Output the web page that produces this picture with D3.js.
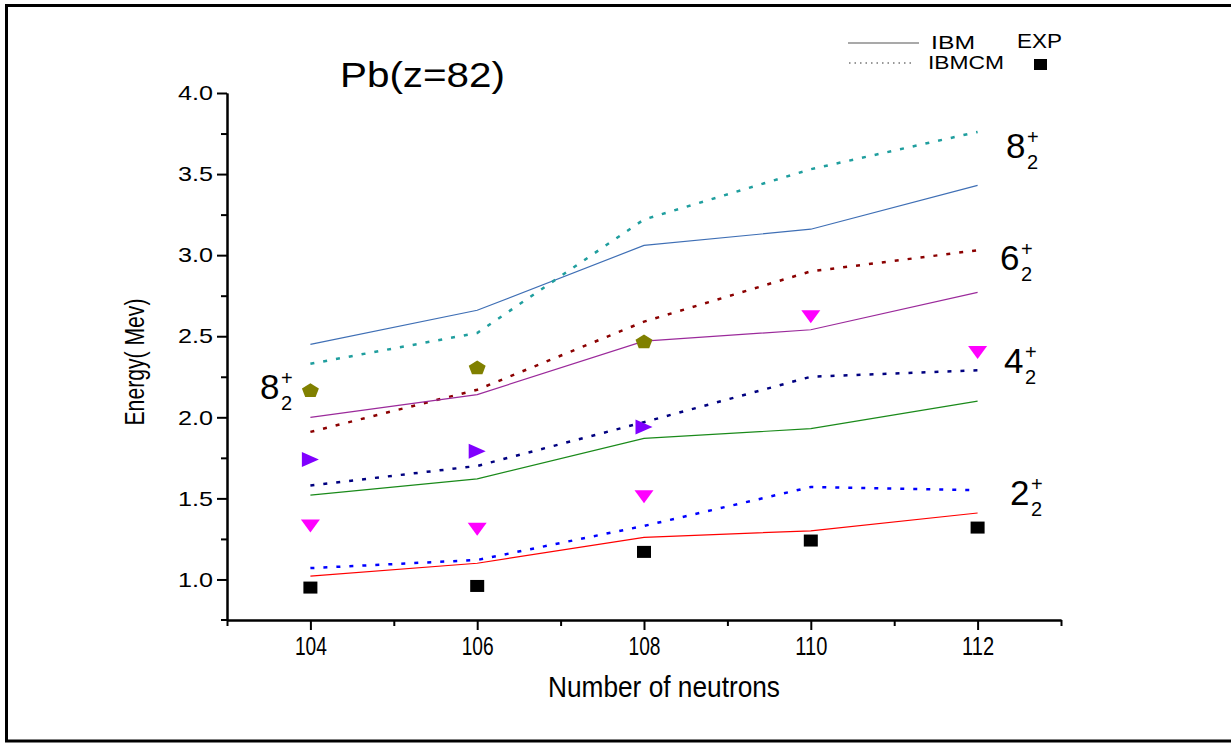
<!DOCTYPE html>
<html>
<head>
<meta charset="utf-8">
<script src="https://cdn.jsdelivr.net/npm/d3@7"></script>
<style>
  body { margin: 0; background: #fff; }
  svg text { font-family: "Liberation Sans", Arial, sans-serif; fill: #000; }
</style>
</head>
<body>
<div id="chart"></div>
<script>
// neutron numbers
const neutrons = [104, 106, 108, 110, 112];
// IBM (solid) and IBMCM (dotted) calculations
const ibm2 = [1.02, 1.10, 1.26, 1.30, 1.41];
const ibmcm2 = [1.07, 1.12, 1.33, 1.57, 1.55];
const ibm4 = [1.52, 1.62, 1.87, 1.93, 2.10];
const ibmcm4 = [1.58, 1.70, 1.97, 2.25, 2.29];
const ibm6 = [2.00, 2.14, 2.47, 2.54, 2.77];
const ibmcm6 = [1.91, 2.17, 2.59, 2.90, 3.03];
const ibm8 = [2.45, 2.66, 3.06, 3.16, 3.43];
const ibmcm8 = [2.33, 2.52, 3.22, 3.53, 3.76];
// experimental points
const expSquare = [0.95, 0.96, 1.17, 1.24, 1.32];
const expDown = [1.33, 1.31, 1.51, 2.62, 2.40];
const expRight = [1.74, 1.79, 1.94];
const expPent = [2.17, 2.31, 2.47];
// ticks
const xMajor = [104, 106, 108, 110, 112];
const xMinor = [103, 105, 107, 109, 111, 113];
const yMajor = [1.0, 1.5, 2.0, 2.5, 3.0, 3.5, 4.0];
const yMinor = [1.25, 1.75, 2.25, 2.75, 3.25, 3.75];

const width = 1231;
const height = 743;

const svg = d3.select("#chart")
  .append("svg")
  .attr("width", width)
  .attr("height", height);

// frame
svg.append("rect")
  .attr("x", 6.5).attr("y", 5.5)
  .attr("width", 1240).attr("height", 735.5)
  .attr("fill", "none").attr("stroke", "#000").attr("stroke-width", 3);

const x = d3.scaleLinear().domain([103, 113]).range([227, 1061]);
const y = d3.scaleLinear().domain([0.75, 4.0]).range([620, 93]);

// axes
const xAxis = svg.append("g")
  .attr("transform", `translate(0,${y(0.75)})`)
  .call(d3.axisBottom(x).tickValues(xMajor).tickFormat(d3.format("d")).tickSize(10).tickSizeOuter(0).tickPadding(7));
svg.append("g")
  .attr("transform", `translate(0,${y(0.75)})`)
  .call(d3.axisBottom(x).tickValues(xMinor).tickFormat("").tickSize(6).tickSizeOuter(0));
xAxis.selectAll("text")
  .style("font-size", "25px")
  .attr("textLength", 32)
  .attr("lengthAdjust", "spacingAndGlyphs");

const yAxis = svg.append("g")
  .attr("transform", `translate(${x(103)},0)`)
  .call(d3.axisLeft(y).tickValues(yMajor).tickFormat(d3.format(".1f")).tickSize(10).tickSizeOuter(0).tickPadding(4));
svg.append("g")
  .attr("transform", `translate(${x(103)},0)`)
  .call(d3.axisLeft(y).tickValues(yMinor).tickFormat("").tickSize(6).tickSizeOuter(0));
yAxis.selectAll("text")
  .style("font-size", "21px")
  .attr("textLength", 35)
  .attr("lengthAdjust", "spacingAndGlyphs");

svg.selectAll(".domain").attr("stroke-width", 2);
svg.selectAll(".tick line").attr("stroke-width", 2);
// extend x axis a bit past the y axis, like the original
svg.append("line")
  .attr("x1", x(103) - 6).attr("x2", x(103))
  .attr("y1", y(0.75)).attr("y2", y(0.75))
  .attr("stroke", "#000").attr("stroke-width", 2);

// axis titles
svg.append("text")
  .attr("x", 664).attr("y", 697)
  .attr("text-anchor", "middle")
  .style("font-size", "30px")
  .attr("textLength", 232).attr("lengthAdjust", "spacingAndGlyphs")
  .text("Number of neutrons");

svg.append("text")
  .attr("transform", "translate(144,362) rotate(-90)")
  .attr("text-anchor", "middle")
  .style("font-size", "28px")
  .attr("textLength", 127).attr("lengthAdjust", "spacingAndGlyphs")
  .text("Energy( Mev)");

// title
svg.append("text")
  .attr("x", 340).attr("y", 87)
  .style("font-size", "35px")
  .attr("textLength", 165).attr("lengthAdjust", "spacingAndGlyphs")
  .text("Pb(z=82)");

// lines
const line = d3.line()
  .x((d, i) => x(neutrons[i]))
  .y(d => y(d));

const series = [
  { values: ibm8, color: "#3f6fb5", dotted: false },
  { values: ibmcm8, color: "#1f9e9e", dotted: true },
  { values: ibmcm6, color: "#8b0000", dotted: true },
  { values: ibm6, color: "#9b2a9b", dotted: false },
  { values: ibmcm4, color: "#000080", dotted: true },
  { values: ibm4, color: "#1a8a1a", dotted: false },
  { values: ibmcm2, color: "#0000ff", dotted: true },
  { values: ibm2, color: "#ff0000", dotted: false }
];

svg.append("g").selectAll("path")
  .data(series)
  .enter()
  .append("path")
  .attr("d", d => line(d.values))
  .attr("fill", "none")
  .attr("stroke", d => d.color)
  .attr("stroke-width", d => d.dotted ? 2.5 : 1.2)
  .attr("stroke-dasharray", d => d.dotted ? "4,9" : null);

// markers
const pent = d3.range(5).map(k => {
  const a = -Math.PI / 2 + k * 2 * Math.PI / 5;
  return [8.9 * Math.cos(a), 7.6 * Math.sin(a) + 1];
});
const pentPath = "M" + pent.map(p => p.join(",")).join("L") + "Z";

svg.append("g").selectAll("rect")
  .data(expSquare)
  .enter()
  .append("rect")
  .attr("x", (d, i) => x(neutrons[i]) - 7)
  .attr("y", d => y(d) - 6)
  .attr("width", 14).attr("height", 12)
  .attr("fill", "#000");

svg.append("g").selectAll("path")
  .data(expDown)
  .enter()
  .append("path")
  .attr("transform", (d, i) => `translate(${x(neutrons[i])},${y(d)})`)
  .attr("d", "M-9.5,-6.5L9.5,-6.5L0,6.5Z")
  .attr("fill", "#ff00ff");

svg.append("g").selectAll("path")
  .data(expRight)
  .enter()
  .append("path")
  .attr("transform", (d, i) => `translate(${x(neutrons[i])},${y(d)})`)
  .attr("d", "M-8.5,-7.5L8.5,0L-8.5,7.5Z")
  .attr("fill", "#8000ff");

svg.append("g").selectAll("path")
  .data(expPent)
  .enter()
  .append("path")
  .attr("transform", (d, i) => `translate(${x(neutrons[i])},${y(d)})`)
  .attr("d", pentPath)
  .attr("fill", "#808000");

// state labels like 8_2^+
function stateLabel(px, py, digit) {
  const g = svg.append("g").attr("transform", `translate(${px},${py})`);
  g.append("text").attr("x", 0).attr("y", 0).style("font-size", "35px").text(digit);
  g.append("text").attr("x", 21).attr("y", 11).style("font-size", "20px").text("2");
  g.append("text").attr("x", 21).attr("y", -14).style("font-size", "20px").text("+");
}
stateLabel(1006, 158, "8");
stateLabel(1000, 270, "6");
stateLabel(1004, 373, "4");
stateLabel(1010, 505, "2");
stateLabel(260, 399, "8");

// legend
svg.append("line")
  .attr("x1", 848).attr("x2", 919).attr("y1", 43).attr("y2", 43)
  .attr("stroke", "#555").attr("stroke-width", 1.2);
svg.append("line")
  .attr("x1", 849).attr("x2", 913).attr("y1", 63).attr("y2", 63)
  .attr("stroke", "#333").attr("stroke-width", 1.2).attr("stroke-dasharray", "1.5,4");
svg.append("text").attr("x", 931).attr("y", 49).style("font-size", "19px")
  .attr("textLength", 44).attr("lengthAdjust", "spacingAndGlyphs").text("IBM");
svg.append("text").attr("x", 928).attr("y", 69).style("font-size", "19px")
  .attr("textLength", 76).attr("lengthAdjust", "spacingAndGlyphs").text("IBMCM");
svg.append("text").attr("x", 1017).attr("y", 48).style("font-size", "20px")
  .attr("textLength", 45).attr("lengthAdjust", "spacingAndGlyphs").text("EXP");
svg.append("rect")
  .attr("x", 1034).attr("y", 59).attr("width", 13).attr("height", 11)
  .attr("fill", "#000");
</script>
</body>
</html>
